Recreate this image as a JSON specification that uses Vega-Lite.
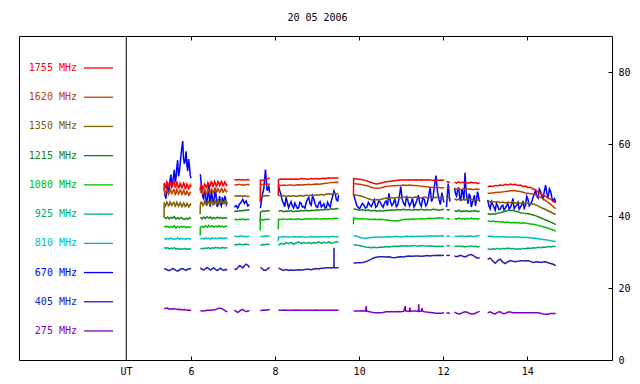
{
"$schema": "https://vega.github.io/schema/vega-lite/v6.json",
"padding": {"left": 18, "top": 13, "right": 0, "bottom": 0},
"background": "white",
"bounds": "flush",
"title": {"text": "20 05 2006", "font": "DejaVu Sans Mono", "fontSize": 10, "fontWeight": "normal", "color": "black", "offset": 12, "anchor": "middle", "dx": -7},
"config": {
  "view": {"stroke": "black", "strokeWidth": 1},
  "font": "DejaVu Sans Mono",
  "axis": {"labelFont": "DejaVu Sans Mono", "labelFontSize": 10, "labelColor": "black", "titleFont": "DejaVu Sans Mono", "titleFontSize": 10, "titleFontWeight": "normal", "titleColor": "black", "domainColor": "black", "tickColor": "black", "grid": false}
},
"datasets": {
"legend": [
{"k":"a","label":"1755 MHz"},{"k":"b","label":"1620 MHz"},{"k":"c","label":"1350 MHz"},{"k":"d","label":"1215 MHz"},{"k":"e","label":"1080 MHz"},
{"k":"f","label":"925 MHz"},{"k":"g","label":"810 MHz"},{"k":"h","label":"670 MHz"},{"k":"i","label":"405 MHz"},{"k":"j","label":"275 MHz"}
],
"radio": [
{"t":5.36,"s":1,"a":49.2,"b":47.3,"c":43.8,"d":39.8,"e":37.3,"f":31.3,"g":33.8,"h":46.0,"i":25.4,"j":14.4},
{"t":5.40,"s":1,"a":48.3,"b":46.5,"c":43.1,"d":39.3,"e":36.9,"f":31.0,"g":33.5,"h":44.8,"i":25.2,"j":14.3},
{"t":5.44,"s":1,"a":49.0,"b":47.1,"c":43.6,"d":39.7,"e":37.2,"f":31.2,"g":33.8,"h":49.5,"i":25.0,"j":14.4},
{"t":5.48,"s":1,"a":48.1,"b":46.4,"c":43.0,"d":39.2,"e":36.8,"f":30.8,"g":33.6,"h":47.2,"i":24.8,"j":14.1},
{"t":5.52,"s":1,"a":48.9,"b":47.0,"c":43.5,"d":39.6,"e":37.1,"f":31.1,"g":33.9,"h":51.5,"i":25.1,"j":14.2},
{"t":5.56,"s":1,"a":48.4,"b":46.6,"c":43.2,"d":39.4,"e":36.9,"f":30.9,"g":33.5,"h":49.0,"i":25.4,"j":14.1},
{"t":5.60,"s":1,"a":49.3,"b":47.2,"c":43.7,"d":39.8,"e":37.3,"f":31.2,"g":33.7,"h":52.8,"i":25.2,"j":14.3},
{"t":5.64,"s":1,"a":48.2,"b":46.3,"c":43.0,"d":39.1,"e":36.7,"f":30.8,"g":33.6,"h":50.5,"i":24.9,"j":14.2},
{"t":5.68,"s":1,"a":48.8,"b":46.9,"c":43.4,"d":39.5,"e":37.1,"f":31.0,"g":33.9,"h":55.5,"i":24.7,"j":14.0},
{"t":5.72,"s":1,"a":48.0,"b":46.4,"c":43.0,"d":39.2,"e":36.8,"f":30.7,"g":33.5,"h":52.0,"i":25.0,"j":14.1},
{"t":5.76,"s":1,"a":48.7,"b":47.0,"c":43.3,"d":39.6,"e":37.2,"f":30.9,"g":33.8,"h":57.0,"i":25.3,"j":14.0},
{"t":5.80,"s":1,"a":48.2,"b":46.3,"c":42.9,"d":39.3,"e":36.9,"f":30.8,"g":33.6,"h":60.8,"i":25.4,"j":13.9},
{"t":5.84,"s":1,"a":48.9,"b":46.8,"c":43.3,"d":39.0,"e":37.1,"f":31.0,"g":33.7,"h":54.5,"i":25.1,"j":14.0},
{"t":5.88,"s":1,"a":47.9,"b":46.1,"c":42.8,"d":39.4,"e":36.7,"f":30.7,"g":33.5,"h":58.0,"i":24.9,"j":13.9},
{"t":5.92,"s":1,"a":48.5,"b":46.6,"c":43.2,"d":39.1,"e":37.0,"f":30.9,"g":33.8,"h":52.5,"i":25.2,"j":13.8},
{"t":5.96,"s":1,"a":47.8,"b":45.9,"c":42.7,"d":39.5,"e":36.8,"f":30.8,"g":33.6,"h":54.0,"i":25.4,"j":13.9},
{"t":6.00,"s":1,"a":48.2,"b":46.4,"c":43.0,"d":39.2,"e":37.1,"f":31.0,"g":33.7,"h":50.5,"i":25.3,"j":13.7},
{"t":6.22,"s":2,"a":47.9,"b":46.4,"c":43.2,"d":39.6,"e":36.9,"f":30.8,"g":33.6,"h":51.6,"i":25.6,"j":13.7},
{"t":6.26,"s":2,"a":48.3,"b":46.9,"c":43.7,"d":39.2,"e":37.2,"f":31.0,"g":33.8,"h":47.0,"i":25.2,"j":13.7},
{"t":6.30,"s":2,"a":47.8,"b":46.3,"c":43.1,"d":39.7,"e":36.8,"f":30.9,"g":33.6,"h":44.8,"i":25.0,"j":13.6},
{"t":6.34,"s":2,"a":48.6,"b":47.0,"c":43.8,"d":39.3,"e":37.3,"f":31.1,"g":33.9,"h":46.5,"i":25.3,"j":13.7},
{"t":6.38,"s":2,"a":48.2,"b":46.5,"c":43.3,"d":39.8,"e":36.9,"f":31.0,"g":33.7,"h":43.5,"i":25.7,"j":13.8},
{"t":6.42,"s":2,"a":49.0,"b":47.1,"c":43.9,"d":39.4,"e":37.4,"f":31.2,"g":33.8,"h":48.8,"i":25.4,"j":13.8},
{"t":6.46,"s":2,"a":48.5,"b":46.6,"c":43.4,"d":39.7,"e":37.0,"f":30.9,"g":33.6,"h":42.6,"i":25.0,"j":13.8},
{"t":6.50,"s":2,"a":49.2,"b":47.2,"c":43.9,"d":39.2,"e":37.3,"f":31.2,"g":33.9,"h":45.8,"i":25.3,"j":13.9},
{"t":6.54,"s":2,"a":48.6,"b":46.8,"c":43.5,"d":39.6,"e":36.9,"f":31.0,"g":33.7,"h":43.0,"i":25.6,"j":13.9},
{"t":6.58,"s":2,"a":49.1,"b":47.3,"c":44.0,"d":39.3,"e":37.2,"f":31.3,"g":33.8,"h":47.8,"i":25.2,"j":14.0},
{"t":6.62,"s":2,"a":48.7,"b":46.8,"c":43.6,"d":39.7,"e":37.0,"f":31.1,"g":33.7,"h":42.5,"i":24.9,"j":14.2},
{"t":6.66,"s":2,"a":49.3,"b":47.2,"c":44.0,"d":39.4,"e":37.3,"f":31.2,"g":33.9,"h":44.5,"i":25.2,"j":14.4},
{"t":6.70,"s":2,"a":48.8,"b":46.9,"c":43.7,"d":39.6,"e":37.0,"f":31.0,"g":33.8,"h":43.3,"i":25.5,"j":14.4},
{"t":6.74,"s":2,"a":49.2,"b":47.3,"c":44.1,"d":39.3,"e":37.2,"f":31.3,"g":33.9,"h":45.2,"i":25.1,"j":14.2},
{"t":6.78,"s":2,"a":48.7,"b":46.9,"c":43.7,"d":39.5,"e":36.9,"f":31.1,"g":33.7,"h":43.6,"i":24.9,"j":13.9},
{"t":6.82,"s":2,"a":49.1,"b":47.2,"c":44.0,"d":39.4,"e":37.2,"f":31.2,"g":33.9,"h":44.8,"i":25.2,"j":13.6},
{"t":6.86,"s":2,"a":48.9,"b":47.0,"c":43.8,"d":39.6,"e":37.1,"f":31.1,"g":33.8,"h":43.8,"i":25.0,"j":13.4},
{"t":7.03,"s":3,"a":50.0,"b":48.7,"c":45.6,"d":41.2,"e":39.0,"f":32.0,"g":34.3,"h":42.4,"i":25.3,"j":13.9},
{"t":7.07,"s":3,"a":50.1,"b":48.6,"c":45.5,"d":41.4,"e":39.1,"f":32.1,"g":34.4,"h":42.9,"i":25.1,"j":13.5},
{"t":7.11,"s":3,"a":50.0,"b":48.7,"c":45.7,"d":41.3,"e":38.9,"f":32.0,"g":34.2,"h":42.2,"i":25.6,"j":13.2},
{"t":7.15,"s":3,"a":50.1,"b":48.8,"c":45.5,"d":41.5,"e":39.1,"f":32.2,"g":34.4,"h":43.3,"i":26.2,"j":13.5},
{"t":7.19,"s":3,"a":50.0,"b":48.6,"c":45.6,"d":41.4,"e":39.0,"f":32.1,"g":34.5,"h":43.8,"i":26.0,"j":13.9},
{"t":7.23,"s":3,"a":50.1,"b":48.7,"c":45.4,"d":41.6,"e":39.2,"f":32.0,"g":34.3,"h":44.6,"i":25.6,"j":14.0},
{"t":7.27,"s":3,"a":50.0,"b":48.6,"c":45.6,"d":41.5,"e":38.9,"f":32.1,"g":34.4,"h":43.5,"i":26.2,"j":13.7},
{"t":7.31,"s":3,"a":50.0,"b":48.7,"c":45.5,"d":41.7,"e":39.1,"f":32.2,"g":34.2,"h":44.2,"i":26.6,"j":13.4},
{"t":7.35,"s":3,"a":50.1,"b":48.8,"c":45.4,"d":41.6,"e":39.0,"f":32.0,"g":34.4,"h":42.8,"i":26.3,"j":13.6},
{"t":7.39,"s":3,"a":50.0,"b":48.6,"c":45.5,"d":41.8,"e":39.1,"f":32.1,"g":34.3,"h":43.2,"i":25.7,"j":13.7},
{"t":7.65,"s":4,"a":49.9,"b":48.7,"c":45.5,"d":41.0,"e":38.9,"f":31.9,"g":34.3,"h":42.2,"i":25.7,"j":13.7},
{"t":7.69,"s":4,"a":49.9,"b":48.8,"c":45.6,"d":41.3,"e":39.0,"f":32.0,"g":34.4,"h":45.5,"i":25.4,"j":13.8},
{"t":7.73,"s":4,"a":50.0,"b":48.7,"c":45.5,"d":41.4,"e":38.9,"f":32.1,"g":34.3,"h":47.5,"i":25.0,"j":13.9},
{"t":7.77,"s":4,"a":50.2,"b":48.9,"c":45.7,"d":41.3,"e":39.1,"f":32.0,"g":34.5,"h":52.9,"i":24.9,"j":13.8},
{"t":7.81,"s":4,"a":50.3,"b":48.8,"c":45.6,"d":41.5,"e":39.0,"f":32.2,"g":34.4,"h":47.0,"i":25.2,"j":13.9},
{"t":7.85,"s":4,"a":50.5,"b":48.9,"c":45.6,"d":41.4,"e":39.1,"f":32.1,"g":34.4,"h":48.2,"i":25.6,"j":14.0},
{"t":7.87,"s":4,"a":50.6,"b":48.8,"c":45.7,"d":41.5,"e":39.0,"f":32.1,"g":34.5,"h":46.5,"i":25.7,"j":13.9},
{"t":8.08,"s":5,"a":50.1,"b":48.6,"c":45.8,"d":41.3,"e":39.1,"f":31.9,"g":34.1,"h":48.5,"i":25.6,"j":13.8},
{"t":8.14,"s":5,"a":50.3,"b":48.5,"c":45.5,"d":41.5,"e":39.0,"f":32.4,"g":34.2,"h":46.0,"i":25.2,"j":13.8},
{"t":8.20,"s":5,"a":50.2,"b":48.6,"c":45.7,"d":41.2,"e":39.2,"f":32.1,"g":34.3,"h":43.5,"i":24.9,"j":13.9},
{"t":8.26,"s":5,"a":50.3,"b":48.5,"c":45.4,"d":41.4,"e":39.0,"f":32.6,"g":34.2,"h":45.2,"i":25.1,"j":13.8},
{"t":8.32,"s":5,"a":50.2,"b":48.6,"c":45.6,"d":41.3,"e":39.1,"f":32.3,"g":34.1,"h":42.3,"i":24.9,"j":13.8},
{"t":8.38,"s":5,"a":50.3,"b":48.6,"c":45.5,"d":41.5,"e":39.2,"f":32.7,"g":34.2,"h":44.0,"i":25.0,"j":13.8},
{"t":8.44,"s":5,"a":50.2,"b":48.5,"c":45.7,"d":41.2,"e":39.0,"f":32.2,"g":34.3,"h":42.2,"i":24.9,"j":13.8},
{"t":8.50,"s":5,"a":50.3,"b":48.6,"c":45.4,"d":41.4,"e":39.1,"f":32.5,"g":34.2,"h":42.8,"i":25.0,"j":13.9},
{"t":8.56,"s":5,"a":50.2,"b":48.7,"c":45.6,"d":41.3,"e":39.2,"f":32.8,"g":34.2,"h":42.3,"i":25.1,"j":13.8},
{"t":8.62,"s":5,"a":50.4,"b":48.6,"c":45.7,"d":41.5,"e":39.0,"f":32.3,"g":34.3,"h":43.5,"i":25.0,"j":13.8},
{"t":8.68,"s":5,"a":50.3,"b":48.7,"c":45.5,"d":41.4,"e":39.1,"f":32.6,"g":34.2,"h":42.6,"i":25.1,"j":13.8},
{"t":8.74,"s":5,"a":50.3,"b":48.7,"c":45.8,"d":41.6,"e":39.2,"f":32.4,"g":34.1,"h":43.8,"i":25.2,"j":13.8},
{"t":8.80,"s":5,"a":50.2,"b":48.8,"c":45.6,"d":41.4,"e":39.1,"f":32.7,"g":34.2,"h":45.2,"i":25.2,"j":13.8},
{"t":8.86,"s":5,"a":50.4,"b":48.7,"c":45.8,"d":41.6,"e":39.2,"f":32.3,"g":34.3,"h":43.0,"i":25.1,"j":13.8},
{"t":8.92,"s":5,"a":50.3,"b":48.8,"c":45.7,"d":41.5,"e":39.1,"f":32.6,"g":34.2,"h":44.8,"i":25.3,"j":13.8},
{"t":8.98,"s":5,"a":50.4,"b":48.9,"c":45.9,"d":41.7,"e":39.3,"f":32.5,"g":34.3,"h":42.6,"i":25.4,"j":13.9},
{"t":9.04,"s":5,"a":50.3,"b":48.8,"c":45.8,"d":41.6,"e":39.2,"f":32.8,"g":34.2,"h":43.6,"i":25.3,"j":13.8},
{"t":9.10,"s":5,"a":50.4,"b":48.9,"c":46.0,"d":41.8,"e":39.1,"f":32.4,"g":34.3,"h":42.5,"i":25.5,"j":13.8},
{"t":9.16,"s":5,"a":50.5,"b":49.0,"c":45.8,"d":41.7,"e":39.3,"f":32.7,"g":34.2,"h":43.4,"i":25.5,"j":13.8},
{"t":9.22,"s":5,"a":50.4,"b":49.1,"c":46.1,"d":41.9,"e":39.2,"f":32.5,"g":34.3,"h":42.4,"i":25.6,"j":13.8},
{"t":9.28,"s":5,"a":50.6,"b":49.2,"c":46.2,"d":41.8,"e":39.3,"f":32.8,"g":34.2,"h":43.0,"i":25.6,"j":13.8},
{"t":9.34,"s":5,"a":50.5,"b":49.3,"c":46.0,"d":42.0,"e":39.2,"f":32.4,"g":34.3,"h":44.2,"i":25.6,"j":13.8},
{"t":9.40,"s":5,"a":50.6,"b":49.3,"c":46.3,"d":41.9,"e":39.4,"f":32.6,"g":34.3,"h":47.0,"i":25.6,"j":13.8},
{"t":9.402,"s":5,"i":31.2},
{"t":9.404,"s":5,"i":25.6},
{"t":9.46,"s":5,"a":50.5,"b":49.4,"c":46.1,"d":42.1,"e":39.3,"f":32.9,"g":34.2,"h":44.5,"i":25.6,"j":13.8},
{"t":9.51,"s":5,"a":50.6,"b":49.3,"c":46.2,"d":42.0,"e":39.3,"f":32.6,"g":34.3,"h":45.8,"i":25.6,"j":13.8},
{"t":9.87,"s":6,"a":50.4,"b":49.0,"c":46.0,"d":42.0,"e":39.4,"f":32.1,"g":34.6,"h":46.0,"i":26.9,"j":13.6},
{"t":9.94,"s":6,"a":50.3,"b":48.9,"c":45.8,"d":41.8,"e":39.3,"f":31.9,"g":34.4,"h":43.0,"i":27.0,"j":13.6},
{"t":10.01,"s":6,"a":50.2,"b":48.8,"c":45.6,"d":41.6,"e":39.2,"f":31.8,"g":34.1,"h":42.0,"i":27.0,"j":13.6},
{"t":10.08,"s":6,"a":50.1,"b":48.7,"c":45.4,"d":41.8,"e":39.3,"f":31.6,"g":33.9,"h":43.5,"i":27.1,"j":13.7},
{"t":10.15,"s":6,"a":49.9,"b":48.5,"c":45.1,"d":41.5,"e":39.2,"f":31.4,"g":33.8,"h":42.2,"i":27.3,"j":13.6},
{"t":10.17,"s":6,"j":15.0},
{"t":10.175,"s":6,"j":13.6},
{"t":10.22,"s":6,"a":49.6,"b":48.3,"c":44.8,"d":41.7,"e":39.1,"f":31.3,"g":33.9,"h":43.8,"i":27.6,"j":13.5},
{"t":10.29,"s":6,"a":49.3,"b":48.0,"c":44.5,"d":41.4,"e":39.0,"f":31.2,"g":34.0,"h":42.6,"i":28.0,"j":13.3},
{"t":10.36,"s":6,"a":49.0,"b":47.8,"c":44.4,"d":41.6,"e":39.1,"f":31.3,"g":34.1,"h":44.5,"i":28.4,"j":13.1},
{"t":10.43,"s":6,"a":48.9,"b":47.7,"c":44.6,"d":41.3,"e":39.0,"f":31.2,"g":34.1,"h":42.8,"i":28.6,"j":13.1},
{"t":10.50,"s":6,"a":49.1,"b":47.8,"c":44.5,"d":41.5,"e":39.1,"f":31.4,"g":34.2,"h":43.9,"i":28.7,"j":13.1},
{"t":10.57,"s":6,"a":49.3,"b":48.0,"c":44.8,"d":41.4,"e":39.0,"f":31.3,"g":34.2,"h":42.4,"i":28.7,"j":13.2},
{"t":10.64,"s":6,"a":49.5,"b":48.2,"c":45.0,"d":41.6,"e":38.9,"f":31.5,"g":34.2,"h":44.2,"i":28.6,"j":13.4},
{"t":10.71,"s":6,"a":49.6,"b":48.3,"c":44.9,"d":41.5,"e":38.8,"f":31.4,"g":34.3,"h":46.3,"i":28.7,"j":13.4},
{"t":10.78,"s":6,"a":49.7,"b":48.4,"c":45.1,"d":41.7,"e":38.7,"f":31.5,"g":34.2,"h":42.9,"i":28.5,"j":13.4},
{"t":10.85,"s":6,"a":49.8,"b":48.4,"c":45.0,"d":41.6,"e":38.6,"f":31.6,"g":34.3,"h":44.8,"i":28.4,"j":13.4},
{"t":10.92,"s":6,"a":49.9,"b":48.5,"c":45.2,"d":41.8,"e":38.7,"f":31.5,"g":34.3,"h":43.1,"i":28.6,"j":13.5},
{"t":10.99,"s":6,"a":50.0,"b":48.5,"c":45.1,"d":41.7,"e":38.8,"f":31.7,"g":34.2,"h":48.2,"i":28.7,"j":13.4},
{"t":11.06,"s":6,"a":50.0,"b":48.6,"c":45.3,"d":41.9,"e":39.0,"f":31.6,"g":34.3,"h":43.5,"i":28.6,"j":13.5},
{"t":11.10,"s":6,"j":15.0},
{"t":11.105,"s":6,"j":13.6},
{"t":11.13,"s":6,"a":50.0,"b":48.5,"c":45.0,"d":41.7,"e":39.1,"f":31.7,"g":34.4,"h":45.6,"i":28.8,"j":13.6},
{"t":11.20,"s":6,"a":50.1,"b":48.6,"c":45.2,"d":41.8,"e":39.0,"f":31.6,"g":34.3,"h":42.8,"i":28.9,"j":13.5},
{"t":11.21,"s":6,"j":14.6},
{"t":11.215,"s":6,"j":13.5},
{"t":11.27,"s":6,"a":50.0,"b":48.5,"c":45.1,"d":41.6,"e":39.2,"f":31.8,"g":34.4,"h":44.9,"i":28.8,"j":13.6},
{"t":11.34,"s":6,"a":50.1,"b":48.5,"c":45.3,"d":41.8,"e":39.1,"f":31.7,"g":34.3,"h":43.2,"i":28.9,"j":13.6},
{"t":11.41,"s":6,"a":50.0,"b":48.4,"c":45.2,"d":41.7,"e":39.2,"f":31.6,"g":34.4,"h":45.8,"i":28.9,"j":13.5},
{"t":11.42,"s":6,"j":15.5},
{"t":11.425,"s":6,"j":13.5},
{"t":11.48,"s":6,"a":50.1,"b":48.3,"c":45.0,"d":41.9,"e":39.3,"f":31.8,"g":34.4,"h":42.7,"i":28.8,"j":13.6},
{"t":11.50,"s":6,"j":14.4},
{"t":11.505,"s":6,"j":13.6},
{"t":11.55,"s":6,"a":50.0,"b":48.2,"c":45.3,"d":41.6,"e":39.2,"f":31.7,"g":34.3,"h":44.6,"i":28.9,"j":13.4},
{"t":11.62,"s":6,"a":50.1,"b":48.1,"c":45.1,"d":41.8,"e":39.3,"f":31.6,"g":34.4,"h":43.4,"i":29.0,"j":13.3},
{"t":11.69,"s":6,"a":50.0,"b":48.0,"c":45.2,"d":41.7,"e":39.4,"f":31.7,"g":34.5,"h":47.8,"i":28.9,"j":13.2},
{"t":11.76,"s":6,"a":49.9,"b":47.9,"c":45.0,"d":41.9,"e":39.3,"f":31.6,"g":34.4,"h":45.2,"i":29.0,"j":13.1},
{"t":11.83,"s":6,"a":50.0,"b":47.9,"c":45.2,"d":41.8,"e":39.4,"f":31.5,"g":34.5,"h":51.2,"i":29.0,"j":13.0},
{"t":11.90,"s":6,"a":49.9,"b":47.9,"c":45.1,"d":41.6,"e":39.5,"f":31.6,"g":34.4,"h":44.6,"i":29.1,"j":13.0},
{"t":11.97,"s":6,"a":50.0,"b":47.8,"c":45.3,"d":41.8,"e":39.4,"f":31.5,"g":34.5,"h":46.5,"i":29.0,"j":13.0},
{"t":12.02,"s":6,"a":49.9,"b":47.9,"c":45.2,"d":41.9,"e":39.5,"f":31.6,"g":34.4,"h":43.8,"i":29.1,"j":13.1},
{"t":12.08,"s":7,"a":49.6,"b":47.9,"c":45.1,"d":41.8,"e":39.3,"f":31.8,"g":34.4,"h":42.5,"i":29.1,"j":13.1},
{"t":12.12,"s":7,"a":49.4,"b":47.8,"c":45.0,"d":41.7,"e":39.2,"f":31.7,"g":34.4,"h":49.0,"i":29.0,"j":13.0},
{"t":12.16,"s":7,"a":49.5,"b":47.9,"c":45.1,"d":41.8,"e":39.3,"f":31.8,"g":34.4,"h":44.0,"i":29.1,"j":13.1},
{"t":12.27,"s":8,"a":49.4,"b":47.6,"c":44.8,"d":41.5,"e":39.3,"f":31.6,"g":34.3,"h":47.8,"i":28.9,"j":13.3},
{"t":12.32,"s":8,"a":49.1,"b":47.4,"c":44.4,"d":41.3,"e":39.1,"f":31.5,"g":34.4,"h":45.5,"i":28.7,"j":13.0},
{"t":12.37,"s":8,"a":49.5,"b":47.5,"c":44.7,"d":41.6,"e":39.4,"f":31.7,"g":34.3,"h":48.0,"i":28.9,"j":12.8},
{"t":12.42,"s":8,"a":49.2,"b":47.3,"c":44.3,"d":41.2,"e":39.2,"f":31.5,"g":34.5,"h":44.2,"i":29.1,"j":12.9},
{"t":12.47,"s":8,"a":49.4,"b":47.5,"c":44.6,"d":41.4,"e":39.3,"f":31.6,"g":34.4,"h":46.5,"i":28.8,"j":13.2},
{"t":12.52,"s":8,"a":49.0,"b":47.4,"c":44.4,"d":41.3,"e":39.1,"f":31.4,"g":34.3,"h":52.0,"i":28.6,"j":13.4},
{"t":12.57,"s":8,"a":49.3,"b":47.6,"c":44.8,"d":41.5,"e":39.3,"f":31.6,"g":34.4,"h":44.8,"i":28.9,"j":13.3},
{"t":12.62,"s":8,"a":49.1,"b":47.4,"c":44.5,"d":41.2,"e":39.2,"f":31.5,"g":34.5,"h":46.2,"i":29.2,"j":13.0},
{"t":12.67,"s":8,"a":49.4,"b":47.5,"c":44.7,"d":41.4,"e":39.4,"f":31.7,"g":34.4,"h":42.5,"i":29.3,"j":12.8},
{"t":12.72,"s":8,"a":49.2,"b":47.3,"c":44.3,"d":41.3,"e":39.2,"f":31.5,"g":34.3,"h":44.6,"i":29.0,"j":12.8},
{"t":12.77,"s":8,"a":49.3,"b":47.5,"c":44.6,"d":41.5,"e":39.3,"f":31.6,"g":34.4,"h":42.8,"i":28.6,"j":13.0},
{"t":12.82,"s":8,"a":49.0,"b":47.4,"c":44.4,"d":41.2,"e":39.1,"f":31.4,"g":34.5,"h":46.8,"i":28.3,"j":13.3},
{"t":12.87,"s":8,"a":49.2,"b":47.5,"c":44.6,"d":41.4,"e":39.3,"f":31.6,"g":34.6,"h":44.0,"i":28.4,"j":13.5},
{"t":13.06,"s":9,"a":48.1,"b":46.3,"c":44.3,"d":40.7,"e":38.7,"f":30.9,"g":34.4,"h":44.5,"i":28.0,"j":13.1},
{"t":13.12,"s":9,"a":48.3,"b":46.3,"c":43.9,"d":40.4,"e":38.5,"f":30.7,"g":34.3,"h":42.0,"i":28.3,"j":13.4},
{"t":13.18,"s":9,"a":48.2,"b":46.4,"c":44.1,"d":40.6,"e":38.6,"f":30.9,"g":34.4,"h":43.2,"i":27.5,"j":13.0},
{"t":13.24,"s":9,"a":48.5,"b":46.5,"c":43.8,"d":40.5,"e":38.4,"f":30.8,"g":34.2,"h":41.6,"i":26.9,"j":12.8},
{"t":13.30,"s":9,"a":48.4,"b":46.6,"c":44.0,"d":40.8,"e":38.5,"f":31.0,"g":34.3,"h":42.8,"i":27.6,"j":13.3},
{"t":13.36,"s":9,"a":48.6,"b":46.6,"c":43.7,"d":40.9,"e":38.3,"f":30.8,"g":34.2,"h":41.9,"i":28.0,"j":13.4},
{"t":13.42,"s":9,"a":48.5,"b":46.7,"c":43.9,"d":41.1,"e":38.4,"f":31.0,"g":34.3,"h":43.0,"i":27.2,"j":12.9},
{"t":13.48,"s":9,"a":48.8,"b":46.8,"c":43.6,"d":41.3,"e":38.2,"f":30.9,"g":34.2,"h":42.2,"i":26.8,"j":12.9},
{"t":13.54,"s":9,"a":48.6,"b":46.9,"c":43.8,"d":41.5,"e":38.3,"f":31.1,"g":34.2,"h":43.5,"i":27.3,"j":13.3},
{"t":13.60,"s":9,"a":48.9,"b":47.0,"c":43.7,"d":41.6,"e":38.1,"f":30.9,"g":34.1,"h":42.4,"i":27.6,"j":13.3},
{"t":13.66,"s":9,"a":48.7,"b":47.1,"c":43.9,"d":41.5,"e":38.2,"f":31.0,"g":34.2,"h":44.9,"i":27.4,"j":13.1},
{"t":13.72,"s":9,"a":48.8,"b":47.0,"c":43.6,"d":41.3,"e":38.1,"f":30.8,"g":34.1,"h":42.6,"i":27.3,"j":13.1},
{"t":13.78,"s":9,"a":48.5,"b":46.9,"c":43.8,"d":41.2,"e":38.2,"f":30.9,"g":34.2,"h":43.8,"i":27.4,"j":13.1},
{"t":13.84,"s":9,"a":48.6,"b":46.8,"c":43.5,"d":40.9,"e":38.0,"f":30.8,"g":34.1,"h":42.5,"i":27.6,"j":13.1},
{"t":13.90,"s":9,"a":48.2,"b":46.6,"c":43.7,"d":40.8,"e":38.1,"f":31.0,"g":34.0,"h":44.2,"i":27.6,"j":13.1},
{"t":13.96,"s":9,"a":48.3,"b":46.4,"c":43.4,"d":40.7,"e":38.0,"f":30.9,"g":34.1,"h":43.0,"i":27.5,"j":13.1},
{"t":14.02,"s":9,"a":47.9,"b":46.3,"c":43.6,"d":40.6,"e":37.9,"f":31.1,"g":34.0,"h":44.6,"i":27.6,"j":13.1},
{"t":14.08,"s":9,"a":48.0,"b":46.2,"c":43.3,"d":40.5,"e":37.8,"f":31.0,"g":33.9,"h":43.3,"i":27.4,"j":13.1},
{"t":14.14,"s":9,"a":47.5,"b":46.1,"c":43.4,"d":40.3,"e":37.7,"f":31.2,"g":33.9,"h":45.2,"i":27.1,"j":13.1},
{"t":14.20,"s":9,"a":47.3,"b":45.9,"c":43.1,"d":40.1,"e":37.6,"f":31.1,"g":33.8,"h":47.2,"i":27.2,"j":13.1},
{"t":14.26,"s":9,"a":46.6,"b":45.6,"c":42.8,"d":39.8,"e":37.4,"f":31.3,"g":33.7,"h":45.0,"i":27.3,"j":13.1},
{"t":14.32,"s":9,"a":46.3,"b":45.2,"c":42.4,"d":39.5,"e":37.2,"f":31.2,"g":33.6,"h":46.8,"i":27.1,"j":13.0},
{"t":14.38,"s":9,"a":45.7,"b":44.8,"c":42.1,"d":39.2,"e":37.0,"f":31.4,"g":33.5,"h":44.8,"i":27.2,"j":12.8},
{"t":14.44,"s":9,"a":45.5,"b":44.3,"c":41.8,"d":38.9,"e":36.8,"f":31.3,"g":33.4,"h":48.6,"i":27.3,"j":12.7},
{"t":14.50,"s":9,"a":44.9,"b":43.8,"c":41.4,"d":38.6,"e":36.6,"f":31.5,"g":33.3,"h":45.4,"i":27.0,"j":12.7},
{"t":14.56,"s":9,"a":44.7,"b":43.3,"c":41.1,"d":38.3,"e":36.3,"f":31.4,"g":33.1,"h":46.8,"i":26.8,"j":12.9},
{"t":14.62,"s":9,"a":44.0,"b":42.6,"c":40.7,"d":38.0,"e":36.1,"f":31.6,"g":33.0,"h":44.2,"i":26.6,"j":12.9},
{"t":14.68,"s":9,"a":43.7,"b":42.0,"c":40.4,"d":37.6,"e":35.8,"f":31.5,"g":32.9,"h":43.8,"i":26.2,"j":12.9},
{"t":5.355,"s":1,"a":46.9,"c":39.6},
{"t":6.215,"s":2,"a":47.0,"c":40.5,"e":34.6},
{"t":7.645,"s":4,"a":43.8,"d":38.2,"e":36.0},
{"t":8.075,"s":5,"a":45.6,"e":36.3,"g":33.0},
{"t":9.865,"s":6,"a":45.6,"e":37.7},
{"t":5.38,"s":1,"a":47.9,"b":46.1,"c":42.7,"h":45.8},
{"t":5.42,"s":1,"a":49.5,"b":47.5,"c":43.9,"h":47.5},
{"t":5.46,"s":1,"a":48.0,"b":46.0,"c":42.8,"h":46.3},
{"t":5.50,"s":1,"a":49.4,"b":47.4,"c":43.9,"h":50.2},
{"t":5.54,"s":1,"a":47.9,"b":46.2,"c":42.9,"h":48.2},
{"t":5.58,"s":1,"a":49.3,"b":47.3,"c":43.8,"h":51.0},
{"t":5.62,"s":1,"a":48.0,"b":46.0,"c":42.7,"h":49.4},
{"t":5.66,"s":1,"a":49.4,"b":47.4,"c":43.8,"h":53.5},
{"t":5.70,"s":1,"a":47.8,"b":46.1,"c":42.7,"h":51.0},
{"t":5.74,"s":1,"a":49.1,"b":47.2,"c":43.7,"h":54.5},
{"t":5.78,"s":1,"a":47.8,"b":46.0,"c":42.6,"h":59.0},
{"t":5.82,"s":1,"a":49.2,"b":47.1,"c":43.6,"h":56.0},
{"t":5.86,"s":1,"a":47.6,"b":45.9,"c":42.6,"h":55.5},
{"t":5.90,"s":1,"a":48.9,"b":46.9,"c":43.5,"h":54.0},
{"t":5.94,"s":1,"a":47.5,"b":45.8,"c":42.5,"h":55.8},
{"t":5.98,"s":1,"a":48.7,"b":46.6,"c":43.3,"h":51.2},
{"t":6.24,"s":2,"a":48.6,"b":47.1,"c":43.9,"h":49.0},
{"t":6.28,"s":2,"a":47.5,"b":46.1,"c":42.9,"h":45.2},
{"t":6.32,"s":2,"a":48.9,"b":47.3,"c":44.1,"h":47.5},
{"t":6.36,"s":2,"a":47.8,"b":46.2,"c":43.0,"h":44.0},
{"t":6.40,"s":2,"a":49.3,"b":47.4,"c":44.2,"h":46.2},
{"t":6.44,"s":2,"a":48.1,"b":46.3,"c":43.1,"h":44.5},
{"t":6.48,"s":2,"a":49.5,"b":47.5,"c":44.3,"h":47.0},
{"t":6.52,"s":2,"a":48.2,"b":46.4,"c":43.2,"h":44.0},
{"t":6.56,"s":2,"a":49.6,"b":47.6,"c":44.4,"h":46.0},
{"t":6.60,"s":2,"a":48.3,"b":46.5,"c":43.3,"h":44.8},
{"t":6.64,"s":2,"a":49.6,"b":47.6,"c":44.4,"h":43.2},
{"t":6.68,"s":2,"a":48.4,"b":46.6,"c":43.4,"h":45.5},
{"t":6.72,"s":2,"a":49.6,"b":47.6,"c":44.4,"h":42.8},
{"t":6.76,"s":2,"a":48.4,"b":46.6,"c":43.4,"h":44.0},
{"t":6.80,"s":2,"a":49.5,"b":47.5,"c":44.3,"h":45.6},
{"t":6.84,"s":2,"a":48.5,"b":46.7,"c":43.5,"h":43.2},
{"t":8.11,"s":5,"h":47.0},{"t":8.17,"s":5,"h":44.2},{"t":8.23,"s":5,"h":42.6},{"t":8.29,"s":5,"h":43.8},
{"t":8.35,"s":5,"h":43.2},{"t":8.41,"s":5,"h":42.8},{"t":8.47,"s":5,"h":43.6},{"t":8.53,"s":5,"h":42.1},
{"t":8.59,"s":5,"h":43.8},{"t":8.65,"s":5,"h":42.5},{"t":8.71,"s":5,"h":42.2},{"t":8.77,"s":5,"h":44.6},
{"t":8.83,"s":5,"h":43.4},{"t":8.89,"s":5,"h":45.6},{"t":8.95,"s":5,"h":43.5},{"t":9.01,"s":5,"h":42.4},
{"t":9.07,"s":5,"h":44.0},{"t":9.13,"s":5,"h":42.9},{"t":9.19,"s":5,"h":42.2},{"t":9.25,"s":5,"h":43.8},
{"t":9.31,"s":5,"h":42.5},{"t":9.37,"s":5,"h":45.5},{"t":9.43,"s":5,"h":46.2},{"t":9.49,"s":5,"h":44.2},
{"t":9.905,"s":6,"h":44.5},{"t":9.975,"s":6,"h":42.4},{"t":10.045,"s":6,"h":42.8},{"t":10.115,"s":6,"h":43.0},
{"t":10.185,"s":6,"h":42.5},{"t":10.255,"s":6,"h":43.1},{"t":10.325,"s":6,"h":43.6},{"t":10.395,"s":6,"h":42.4},
{"t":10.465,"s":6,"h":44.2},{"t":10.535,"s":6,"h":43.0},{"t":10.605,"s":6,"h":43.6},{"t":10.675,"s":6,"h":42.9},
{"t":10.745,"s":6,"h":44.0},{"t":10.815,"s":6,"h":43.5},{"t":10.885,"s":6,"h":42.6},{"t":10.955,"s":6,"h":45.2},
{"t":11.025,"s":6,"h":44.6},{"t":11.095,"s":6,"h":42.9},{"t":11.165,"s":6,"h":44.1},{"t":11.235,"s":6,"h":43.6},
{"t":11.305,"s":6,"h":42.5},{"t":11.375,"s":6,"h":44.4},{"t":11.445,"s":6,"h":43.5},{"t":11.515,"s":6,"h":45.0},
{"t":11.585,"s":6,"h":42.8},{"t":11.655,"s":6,"h":45.5},{"t":11.725,"s":6,"h":44.0},{"t":11.795,"s":6,"h":48.5},
{"t":11.865,"s":6,"h":46.8},{"t":11.935,"s":6,"h":43.2},{"t":11.995,"s":6,"h":45.0},
{"t":12.295,"s":8,"h":46.2},{"t":12.345,"s":8,"h":47.2},{"t":12.395,"s":8,"h":45.0},{"t":12.445,"s":8,"h":47.5},
{"t":12.495,"s":8,"h":44.5},{"t":12.545,"s":8,"h":47.0},{"t":12.595,"s":8,"h":43.4},{"t":12.645,"s":8,"h":45.5},
{"t":12.695,"s":8,"h":43.6},{"t":12.745,"s":8,"h":45.8},{"t":12.795,"s":8,"h":44.5},{"t":12.845,"s":8,"h":45.2},
{"t":13.09,"s":9,"h":42.8},{"t":13.15,"s":9,"h":44.0},{"t":13.21,"s":9,"h":42.5},{"t":13.27,"s":9,"h":43.5},
{"t":13.33,"s":9,"h":41.8},{"t":13.39,"s":9,"h":42.8},{"t":13.45,"s":9,"h":41.7},{"t":13.51,"s":9,"h":42.9},
{"t":13.57,"s":9,"h":41.9},{"t":13.63,"s":9,"h":43.2},{"t":13.69,"s":9,"h":42.0},{"t":13.75,"s":9,"h":43.0},
{"t":13.81,"s":9,"h":41.9},{"t":13.87,"s":9,"h":43.0},{"t":13.93,"s":9,"h":42.2},{"t":13.99,"s":9,"h":45.5},
{"t":14.05,"s":9,"h":42.8},{"t":14.11,"s":9,"h":44.0},{"t":14.17,"s":9,"h":46.0},{"t":14.23,"s":9,"h":45.5},
{"t":14.29,"s":9,"h":47.5},{"t":14.35,"s":9,"h":45.5},{"t":14.41,"s":9,"h":47.0},{"t":14.47,"s":9,"h":46.2},
{"t":14.53,"s":9,"h":47.5},{"t":14.59,"s":9,"h":45.0},{"t":14.65,"s":9,"h":44.8}
]
},
"resolve": {"scale": {"x": "independent", "y": "independent", "color": "shared"}},
"spacing": 0,
"hconcat": [
  {
    "width": 107, "height": 324,
    "data": {"name": "legend"},
    "encoding": {
      "y": {"field": "k", "type": "nominal", "scale": {"type": "point", "domain": ["a","b","c","d","e","f","g","h","i","j"], "range": [32, 295], "padding": 0}, "axis": null},
      "color": {"field": "k", "type": "nominal", "scale": {"domain": ["a","b","c","d","e","f","g","h","i","j"], "range": ["#ff0000","#c04000","#806000","#208020","#00c000","#00b060","#00c0c0","#0000ff","#2020b8","#8000c0"]}, "legend": null}
    },
    "layer": [
      {"mark": {"type": "text", "align": "right", "baseline": "middle", "font": "DejaVu Sans Mono", "fontSize": 10}, "encoding": {"x": {"value": 58}, "text": {"field": "label"}}},
      {"mark": {"type": "rule", "strokeWidth": 1.3}, "encoding": {"x": {"value": 65}, "x2": {"value": 94}}}
    ]
  },
  {
    "width": 486, "height": 324,
    "layer": [
      {
        "data": {"name": "radio"},
        "transform": [{"fold": ["h","a","b","c","d","e","f","g","i","j"], "as": ["k","v"]}, {"filter": "isValid(datum.v)"}],
        "mark": {"type": "line", "strokeWidth": 1.5},
        "encoding": {
          "x": {"field": "t", "type": "quantitative", "scale": {"domain": [4.45, 16.02], "nice": false, "zero": false},
                "axis": {"orient": "bottom", "values": [6,8,10,12,14], "format": "d", "tickSize": -4, "labelPadding": 10, "domain": false, "title": "UT", "titleX": 0, "titleY": 6, "titleAlign": "center", "titleBaseline": "top"}},
          "y": {"field": "v", "type": "quantitative", "scale": {"domain": [0, 90], "nice": false},
                "axis": {"orient": "right", "values": [0,20,40,60,80], "tickSize": -4, "labelPadding": 10, "domain": false, "title": null}},
          "color": {"field": "k", "type": "nominal", "scale": {"domain": ["a","b","c","d","e","f","g","h","i","j"], "range": ["#ff0000","#c04000","#806000","#208020","#00c000","#00b060","#00c0c0","#0000ff","#2020b8","#8000c0"]}, "legend": null},
          "detail": {"field": "s", "type": "nominal"}
        }
      },
      {
        "data": {"values": [{}]},
        "mark": {"type": "rule", "color": "#808080", "strokeWidth": 1},
        "encoding": {"x": {"datum": 4.45, "type": "quantitative", "axis": {"orient": "top", "values": [6,8,10,12,14], "labels": false, "tickSize": -4, "domain": false, "title": null}}}
      }
    ],
    "resolve": {"axis": {"x": "independent"}}
  }
]
}
